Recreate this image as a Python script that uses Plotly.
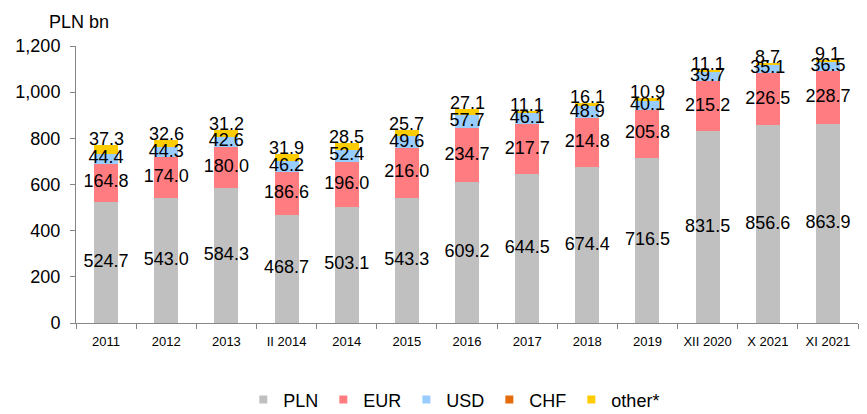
import plotly.graph_objects as go

periods = ["2011", "2012", "2013", "II 2014", "2014", "2015", "2016", "2017",
           "2018", "2019", "XII 2020", "X 2021", "XI 2021"]
pln = [524.7, 543.0, 584.3, 468.7, 503.1, 543.3, 609.2, 644.5, 674.4, 716.5, 831.5, 856.6, 863.9]
eur = [164.8, 174.0, 180.0, 186.6, 196.0, 216.0, 234.7, 217.7, 214.8, 205.8, 215.2, 226.5, 228.7]
usd = [44.4, 44.3, 42.6, 46.2, 52.4, 49.6, 57.7, 46.1, 48.9, 40.1, 39.7, 35.1, 36.5]
chf = [0, 0, 0, 0, 0, 0, 0, 0, 0, 0, 0, 0, 0]
other = [37.3, 32.6, 31.2, 31.9, 28.5, 25.7, 27.1, 11.1, 16.1, 10.9, 11.1, 8.7, 9.1]

y_ticks = [0, 200, 400, 600, 800, 1000, 1200]
y_tick_text = ["0", "200", "400", "600", "800", "1,000", "1,200"]

FONT = "Liberation Sans, Arial, sans-serif"
LABEL_FONT = dict(family=FONT, size=18, color="#000000")

series = [
    ("PLN", pln, "#C0C0C0"),
    ("EUR", eur, "#FF7C80"),
    ("USD", usd, "#99CCFF"),
    ("CHF", chf, "#E46C0A"),
    ("other*", other, "#FFCC00"),
]

fig = go.Figure()

# stacked bars
for name, vals, color in series:
    fig.add_trace(go.Bar(
        x=periods, y=vals, name=name, showlegend=False,
        marker=dict(color=color, line=dict(width=0)),
        hoverinfo="x+y+name",
    ))

# value labels centred in each segment, drawn above all bars
base = [0.0] * len(periods)
for name, vals, color in series:
    mids = [b + v / 2 for b, v in zip(base, vals)]
    if name in ("PLN", "EUR", "USD"):
        fig.add_trace(go.Scatter(
            x=periods, y=mids, mode="text", text=[f"{v:.1f}" for v in vals],
            textposition="middle center", textfont=LABEL_FONT,
            showlegend=False, hoverinfo="skip", cliponaxis=False,
        ))
    base = [b + v for b, v in zip(base, vals)]

# "other" labels sit just on top of each column (x given as category index)
annotations = [
    dict(x=i, y=tot, xref="x", yref="y", text=f"{v:.1f}", showarrow=False,
         yanchor="middle", yshift=6, font=LABEL_FONT)
    for i, (tot, v) in enumerate(zip(base, other))
]

# legend entries with small square swatches
for name, vals, color in series:
    fig.add_trace(go.Scatter(
        x=[periods[0]], y=[None], mode="markers", name=name,
        marker=dict(symbol="square", size=8, color=color),
        hoverinfo="skip",
    ))

annotations.append(dict(
    text="PLN bn", xref="paper", yref="paper", x=-0.037, y=1.045,
    xanchor="left", yanchor="bottom", showarrow=False,
    font=dict(family=FONT, size=18),
))

fig.update_layout(
    barmode="stack",
    bargap=0.6,
    width=867, height=414,
    margin=dict(l=76, r=9, t=46, b=91),
    paper_bgcolor="white", plot_bgcolor="white",
    font=dict(family=FONT, color="#000000"),
    showlegend=True,
    legend=dict(
        orientation="h", xref="container", yref="container",
        x=0.524, xanchor="center", y=0.034, yanchor="middle",
        font=dict(family=FONT, size=18),
        itemwidth=30, traceorder="normal",
    ),
    xaxis=dict(
        type="category", categoryorder="array", categoryarray=periods,
        range=[-0.5, len(periods) - 0.5],
        showgrid=False, showline=True, linecolor="#868686",
        ticks="outside", ticklen=5, tickcolor="#868686", tickson="boundaries",
        tickfont=dict(family=FONT, size=13), ticklabelstandoff=6,
        tickangle=0,
    ),
    yaxis=dict(
        range=[0, 1200], tickvals=y_ticks, ticktext=y_tick_text,
        showgrid=False, showline=True, linecolor="#868686",
        ticks="outside", ticklen=5, tickcolor="#868686",
        tickfont=dict(family=FONT, size=18), zeroline=False,
        ticklabelstandoff=6,
    ),
    annotations=annotations,
)

fig.write_html("out.html")
